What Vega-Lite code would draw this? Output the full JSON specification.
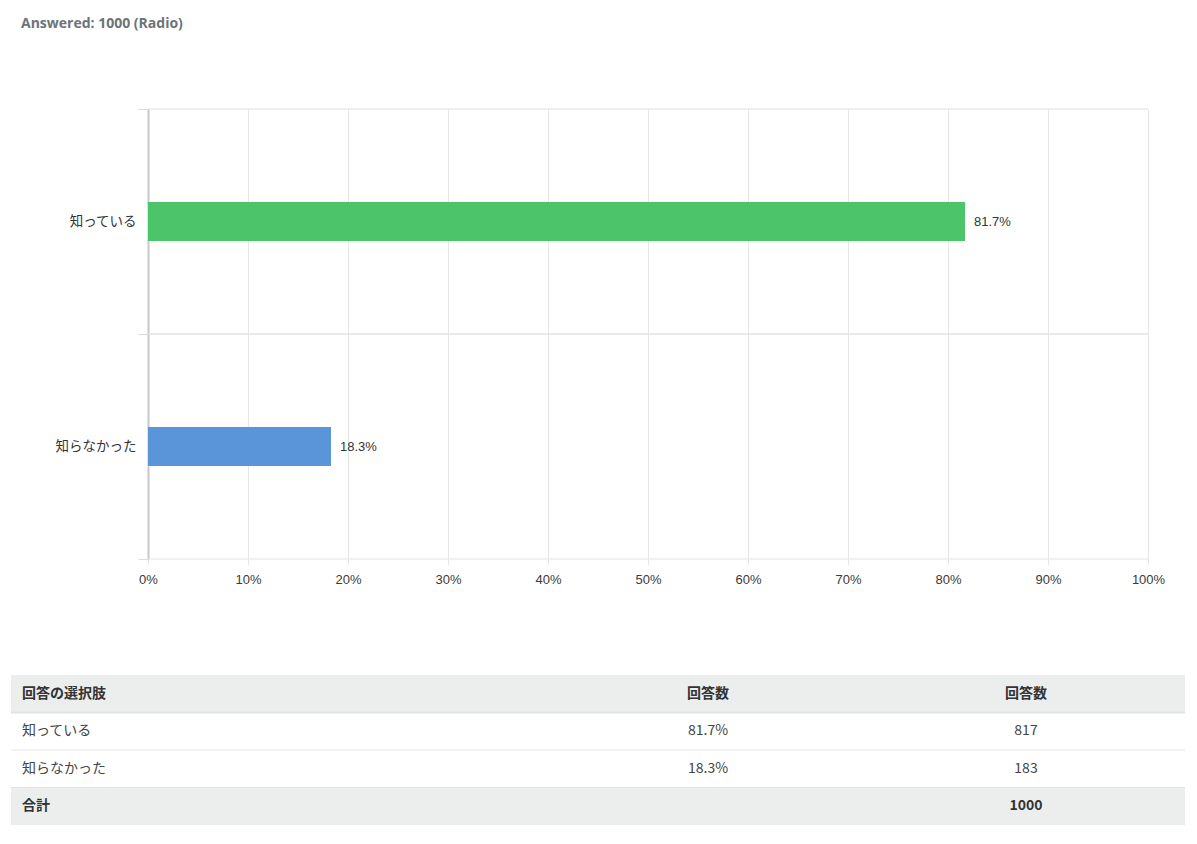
{
  "$schema": "https://vega.github.io/schema/vega-lite/v6.json",
  "background": "white",
  "padding": {"left": 10, "top": 17, "right": 12, "bottom": 19},
  "title": {"text": "Answered: 1000 (Radio)", "anchor": "start", "frame": "group", "dx": 10, "offset": 71, "fontSize": 14, "font": "Open Sans", "fontWeight": "bold", "color": "#6b737b"},
  "spacing": 89,
  "config": {"view": {"stroke": null}},
  "datasets": {
    "answers": [
      {"answer": "知っている", "pct": 0.817, "count": 817},
      {"answer": "知らなかった", "pct": 0.183, "count": 183}
    ],
    "tableRows": [
      {"row": "回答の選択肢", "kind": "head"},
      {"row": "知っている", "kind": "body"},
      {"row": "知らなかった", "kind": "body"},
      {"row": "合計", "kind": "total"}
    ],
    "tableCells": [
      {"row": "回答の選択肢", "col": "選択肢", "label": "回答の選択肢", "kind": "head"},
      {"row": "回答の選択肢", "col": "割合", "label": "回答数", "kind": "head"},
      {"row": "回答の選択肢", "col": "件数", "label": "回答数", "kind": "head"},
      {"row": "知っている", "col": "選択肢", "label": "知っている", "kind": "body"},
      {"row": "知っている", "col": "割合", "label": "81.7%", "kind": "body"},
      {"row": "知っている", "col": "件数", "label": "817", "kind": "body"},
      {"row": "知らなかった", "col": "選択肢", "label": "知らなかった", "kind": "body"},
      {"row": "知らなかった", "col": "割合", "label": "18.3%", "kind": "body"},
      {"row": "知らなかった", "col": "件数", "label": "183", "kind": "body"},
      {"row": "合計", "col": "選択肢", "label": "合計", "kind": "total"},
      {"row": "合計", "col": "件数", "label": "1000", "kind": "total"}
    ]
  },
  "vconcat": [
    {
      "width": 1174,
      "height": 450,
      "data": {"name": "answers"},
      "encoding": {
        "y": {
          "field": "answer", "type": "nominal", "sort": null, "title": null,
          "scale": {"type": "band", "paddingInner": 0, "paddingOuter": 0},
          "axis": {"offset": -137, "tickBand": "extent", "tickSize": 10, "tickColor": "#dcdcdc", "domainColor": "#c8c8c8", "domainWidth": 2, "labelPadding": 2, "labelFontSize": 13.5, "labelFont": "Liberation Sans, Noto Sans CJK JP", "labelColor": "#333333", "grid": false}
        }
      },
      "layer": [
        {
          "mark": {"type": "rule", "color": "#dedede", "strokeWidth": 1},
          "encoding": {
            "y": {"field": "answer", "type": "nominal", "sort": null, "bandPosition": 0},
            "x": {"datum": 0, "type": "quantitative"},
            "x2": {"datum": 1}
          }
        },
        {
          "mark": {"type": "rule", "color": "#e4e4e4", "strokeWidth": 1},
          "encoding": {
            "y": {"field": "answer", "type": "nominal", "sort": null, "bandPosition": 1},
            "x": {"datum": 0, "type": "quantitative"},
            "x2": {"datum": 1}
          }
        },
        {
          "mark": {"type": "bar", "height": {"band": 0.173}},
          "encoding": {
            "x": {
              "field": "pct", "type": "quantitative", "title": null,
              "scale": {"domain": [-0.137, 1.037], "nice": false, "zero": false},
              "axis": {"values": [0, 0.1, 0.2, 0.3, 0.4, 0.5, 0.6, 0.7, 0.8, 0.9, 1], "format": ".0%", "grid": true, "gridColor": "#e6e6e6", "domain": false, "tickColor": "#e6e6e6", "tickSize": 6, "labelPadding": 8, "labelFontSize": 13, "labelFont": "Liberation Sans", "labelColor": "#3a3a3a"}
            },
            "x2": {"datum": 0},
            "color": {"field": "answer", "type": "nominal", "legend": null, "scale": {"domain": ["知っている", "知らなかった"], "range": ["#4cc46a", "#5b95d9"]}}
          }
        },
        {
          "mark": {"type": "text", "align": "left", "baseline": "middle", "dx": 9, "fontSize": 13, "font": "Liberation Sans", "color": "#333333"},
          "encoding": {
            "x": {"field": "pct", "type": "quantitative"},
            "text": {"field": "pct", "type": "quantitative", "format": ".1%"}
          }
        }
      ]
    },
    {
      "width": 1174,
      "height": 150,
      "layer": [
        {
          "data": {"name": "tableRows"},
          "mark": {"type": "rect"},
          "encoding": {
            "y": {"field": "row", "type": "nominal", "sort": ["回答の選択肢", "知っている", "知らなかった", "合計"], "axis": null, "scale": {"type": "band", "paddingInner": 0, "paddingOuter": 0}},
            "fill": {"condition": {"test": "datum.kind !== 'body'", "value": "#eceeee"}, "value": "#ffffff"}
          }
        },
        {
          "data": {"name": "tableRows"},
          "transform": [{"filter": "datum.kind !== 'total'"}],
          "mark": {"type": "rule", "color": "#e1e4e6"},
          "encoding": {
            "y": {"field": "row", "type": "nominal", "sort": ["回答の選択肢", "知っている", "知らなかった", "合計"], "bandPosition": 1},
            "strokeWidth": {"condition": {"test": "datum.kind === 'head'", "value": 2}, "value": 1}
          }
        },
        {
          "data": {"name": "tableCells"},
          "transform": [{"filter": "datum.col === '選択肢' && datum.kind === 'body'"}],
          "mark": {"type": "text", "align": "left", "baseline": "middle", "fontSize": 14, "font": "Noto Sans CJK JP", "color": "#444444"},
          "encoding": {
            "x": {"value": 11},
            "y": {"field": "row", "type": "nominal", "sort": ["回答の選択肢", "知っている", "知らなかった", "合計"]},
            "text": {"field": "label"}
          }
        },
        {
          "data": {"name": "tableCells"},
          "transform": [{"filter": "datum.col === '選択肢' && datum.kind !== 'body'"}],
          "mark": {"type": "text", "align": "left", "baseline": "middle", "fontSize": 14, "font": "Noto Sans CJK JP", "fontWeight": "bold", "color": "#333333"},
          "encoding": {
            "x": {"value": 11},
            "y": {"field": "row", "type": "nominal", "sort": ["回答の選択肢", "知っている", "知らなかった", "合計"]},
            "text": {"field": "label"}
          }
        },
        {
          "data": {"name": "tableCells"},
          "transform": [{"filter": "datum.col !== '選択肢' && datum.kind === 'body'"}],
          "mark": {"type": "text", "align": "center", "baseline": "middle", "fontSize": 14, "font": "Noto Sans CJK JP", "color": "#444444"},
          "encoding": {
            "x": {"field": "col", "type": "nominal", "axis": null, "scale": {"type": "band", "domain": ["選択肢", "割合", "件数"], "paddingInner": 0, "paddingOuter": 0.346, "align": 1}},
            "y": {"field": "row", "type": "nominal", "sort": ["回答の選択肢", "知っている", "知らなかった", "合計"]},
            "text": {"field": "label"}
          }
        },
        {
          "data": {"name": "tableCells"},
          "transform": [{"filter": "datum.col !== '選択肢' && datum.kind !== 'body'"}],
          "mark": {"type": "text", "align": "center", "baseline": "middle", "fontSize": 14, "font": "Noto Sans CJK JP", "fontWeight": "bold", "color": "#333333"},
          "encoding": {
            "x": {"field": "col", "type": "nominal", "axis": null, "scale": {"type": "band", "domain": ["選択肢", "割合", "件数"], "paddingInner": 0, "paddingOuter": 0.346, "align": 1}},
            "y": {"field": "row", "type": "nominal", "sort": ["回答の選択肢", "知っている", "知らなかった", "合計"]},
            "text": {"field": "label"}
          }
        }
      ]
    }
  ]
}
